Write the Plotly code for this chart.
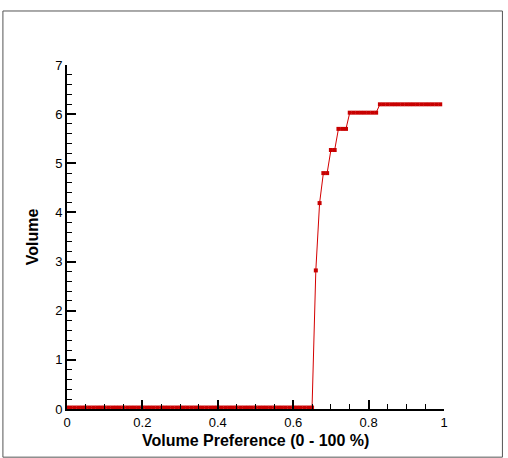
import plotly.graph_objects as go

x_vals = [round(i * 0.01, 2) for i in range(100)]
low_part = [0.03] * 66  # x = 0.00 .. 0.65
rise_part = [2.82, 4.19, 4.80, 4.80, 5.27, 5.27, 5.70, 5.70, 5.70]  # x = 0.66 .. 0.74
plateau1 = [6.03] * 8   # x = 0.75 .. 0.82
plateau2 = [6.20] * 17  # x = 0.83 .. 0.99
y_vals = low_part + rise_part + plateau1 + plateau2

x_title = "Volume Preference (0 - 100 %)"
y_title = "Volume"

font_fam = "Liberation Sans, Arial, Helvetica, sans-serif"

fig = go.Figure()
fig.add_trace(go.Scatter(
    x=x_vals, y=y_vals, mode="lines+markers",
    line=dict(color="#d40000", width=1),
    marker=dict(symbol="square", size=4, color="#c80000"),
    cliponaxis=False, showlegend=False,
))

fig.update_layout(
    width=508, height=458,
    margin=dict(l=67, r=64, t=65, b=49),
    paper_bgcolor="white", plot_bgcolor="white",
    font=dict(family=font_fam, size=13, color="black"),
)
fig.update_xaxes(
    range=[0, 1], autorange=False, dtick=0.2, tick0=0,
    showgrid=False, zeroline=False,
    showline=True, linecolor="black", linewidth=2,
    ticks="inside", ticklen=9, tickwidth=2, tickcolor="black",
    minor=dict(dtick=0.05, ticks="inside", ticklen=5, tickwidth=1, tickcolor="black", showgrid=False),
    tickfont=dict(size=13),
)
fig.update_yaxes(
    range=[0, 7], autorange=False, dtick=1, tick0=0,
    showgrid=False, zeroline=False,
    showline=True, linecolor="black", linewidth=2,
    ticks="inside", ticklen=9, tickwidth=2, tickcolor="black",
    minor=dict(dtick=0.2, ticks="inside", ticklen=5, tickwidth=1, tickcolor="black", showgrid=False),
    tickfont=dict(size=13),
    title=dict(text="<b>" + y_title + "</b>", font=dict(size=16), standoff=13),
)

fig.add_annotation(text="<b>" + x_title + "</b>", xref="paper", yref="paper",
                   x=0.5, y=-0.091, xanchor="center", yanchor="middle",
                   showarrow=False, font=dict(size=16, family=font_fam, color="black"))

fig.add_shape(type="rect", xref="paper", yref="paper",
              x0=-0.170, x1=1.155, y0=-0.140, y1=1.157,
              line=dict(color="#555555", width=1), fillcolor="rgba(0,0,0,0)")

fig.write_html("out.html")
